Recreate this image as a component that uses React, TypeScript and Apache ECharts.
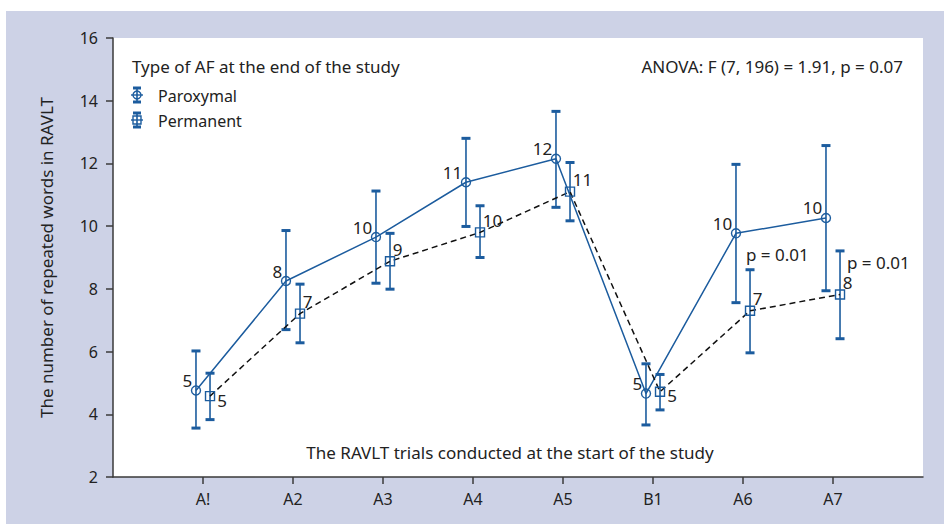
import React, { useEffect, useRef } from "react";
import * as echarts from "echarts";

const categories = ["A!", "A2", "A3", "A4", "A5", "B1", "A6", "A7"];
const paroxMean = [4.76, 8.25, 9.65, 11.4, 12.15, 4.66, 9.77, 10.26];
const paroxUpper = [6.02, 9.86, 11.12, 12.8, 13.66, 5.61, 11.97, 12.57];
const paroxLower = [3.56, 6.7, 8.18, 9.99, 10.6, 3.66, 7.56, 7.94];
const permMean = [4.58, 7.21, 8.88, 9.8, 11.1, 4.72, 7.3, 7.82];
const permUpper = [5.31, 8.15, 9.77, 10.65, 12.03, 5.27, 8.61, 9.21];
const permLower = [3.83, 6.28, 7.99, 9.0, 10.17, 4.14, 5.96, 6.41];
const paroxLabels = ["5", "8", "10", "11", "12", "5", "10", "10"];
const permLabels = ["5", "7", "9", "10", "11", "5", "7", "8"];
const yTicks = [2, 4, 6, 8, 10, 12, 14, 16];

const BLUE = "#1c5c9e";
const TEXT = "#222";
const FONT = "'Noto Sans', 'Open Sans', sans-serif";

export default function App() {
  const ref = useRef<HTMLDivElement>(null);

  useEffect(() => {
    document.body.style.margin = "0";
    if (!ref.current) return;
    const chart = echarts.init(ref.current, null, { renderer: "svg" });

    const off = 0.078;
    const xPar = categories.map((_, i) => i + 1 - off);
    const xPerm = categories.map((_, i) => i + 1 + off);
    const tickVals = categories.map((_, i) => i + 1);

    const errRender = (params: any, api: any) => {
      const x = api.value(0);
      const lo = api.coord([x, api.value(1)]);
      const hi = api.coord([x, api.value(2)]);
      const w = 4.5;
      const st = { stroke: BLUE, lineWidth: 1.6 };
      const cap = { stroke: BLUE, lineWidth: 3 };
      return {
        type: "group",
        children: [
          { type: "line", shape: { x1: lo[0], y1: lo[1], x2: hi[0], y2: hi[1] }, style: st },
          { type: "line", shape: { x1: lo[0] - w, y1: lo[1], x2: lo[0] + w, y2: lo[1] }, style: cap },
          { type: "line", shape: { x1: hi[0] - w, y1: hi[1], x2: hi[0] + w, y2: hi[1] }, style: cap },
        ],
      };
    };

    const lowLabelIdx = [0, 5];

    const legendIcon = (cy: number, shape: "circle" | "rect") => {
      const cx = 137;
      const els: any[] = [
        { type: "line", shape: { x1: cx, y1: cy - 7, x2: cx, y2: cy + 7 }, style: { stroke: BLUE, lineWidth: 1.6 } },
        { type: "line", shape: { x1: cx - 4, y1: cy - 7, x2: cx + 4, y2: cy - 7 }, style: { stroke: BLUE, lineWidth: 3 } },
        { type: "line", shape: { x1: cx - 4, y1: cy + 7, x2: cx + 4, y2: cy + 7 }, style: { stroke: BLUE, lineWidth: 3 } },
        { type: "line", shape: { x1: cx - 6, y1: cy, x2: cx + 6, y2: cy }, style: { stroke: BLUE, lineWidth: 1.4 } },
      ];
      if (shape === "circle") {
        els.push({ type: "circle", shape: { cx, cy, r: 4 }, style: { fill: "none", stroke: BLUE, lineWidth: 1.4 } });
      } else {
        els.push({ type: "rect", shape: { x: cx - 4, y: cy - 4, width: 8, height: 8 }, style: { fill: "none", stroke: BLUE, lineWidth: 1.4 } });
      }
      return els;
    };

    const txt = (x: number, y: number, s: string, align = "left", size = 16) => ({
      type: "text",
      x,
      y,
      style: { text: s, fill: TEXT, font: `${size}px ${FONT}`, align, verticalAlign: "middle" },
    });

    chart.setOption({
      animation: false,
      backgroundColor: "transparent",
      textStyle: { fontFamily: FONT },
      grid: { left: 113, right: 21, top: 38, bottom: 47, show: true, backgroundColor: "#ffffff", borderWidth: 0 },
      xAxis: {
        type: "value",
        min: 0,
        max: categories.length + 1,
        interval: 1,
        splitLine: { show: false },
        axisLine: { lineStyle: { color: "#3a3a3a", width: 1.5 } },
        axisTick: { show: true, length: 7, customValues: tickVals, lineStyle: { color: "#3a3a3a", width: 1.5 } },
        axisLabel: {
          customValues: tickVals,
          formatter: (v: number) => categories[Math.round(v) - 1] ?? "",
          color: TEXT,
          fontSize: 16,
          margin: 14,
          fontFamily: FONT,
        },
      },
      yAxis: {
        type: "value",
        min: 2,
        max: 16,
        interval: 2,
        name: "The number of repeated words in RAVLT",
        nameLocation: "middle",
        nameGap: 58,
        nameTextStyle: { color: TEXT, fontSize: 17, fontFamily: FONT },
        splitLine: { show: false },
        axisLine: { show: true, lineStyle: { color: "#3a3a3a", width: 1.5 } },
        axisTick: { show: true, length: 7, lineStyle: { color: "#3a3a3a", width: 1.5 } },
        axisLabel: {
          color: TEXT,
          fontSize: 16,
          margin: 15,
          fontFamily: FONT,
          formatter: (v: number) => (yTicks.includes(v) ? String(v) : ""),
        },
      },
      graphic: [
        txt(132, 66, "Type of AF at the end of the study", "left", 17),
        txt(903, 66, "ANOVA: F (7, 196) = 1.91, p = 0.07", "right", 17),
        ...legendIcon(95, "circle"),
        ...legendIcon(120, "rect"),
        txt(158, 96, "Paroxymal"),
        txt(158, 121, "Permanent"),
        txt(746, 254, "p = 0.01", "left", 17),
        txt(847, 262, "p = 0.01", "left", 17),
        txt(510, 452, "The RAVLT trials conducted at the start of the study", "center", 17),
      ],
      series: [
        {
          type: "custom",
          name: "Paroxymal error",
          renderItem: errRender,
          data: xPar.map((x, i) => [x, paroxLower[i], paroxUpper[i]]),
          z: 1,
        },
        {
          type: "custom",
          name: "Permanent error",
          renderItem: errRender,
          data: xPerm.map((x, i) => [x, permLower[i], permUpper[i]]),
          z: 1,
        },
        {
          type: "line",
          name: "Paroxymal",
          data: xPar.map((x, i) => [x, paroxMean[i]]),
          symbol: "circle",
          symbolSize: 9,
          itemStyle: { color: "rgba(255,255,255,0)", borderColor: BLUE, borderWidth: 1.4 },
          lineStyle: { color: BLUE, width: 1.5 },
          label: {
            show: true,
            position: "left",
            distance: 0,
            offset: [1.5, -10],
            color: TEXT,
            fontSize: 17,
            fontFamily: FONT,
            formatter: (p: any) => paroxLabels[p.dataIndex],
          },
          z: 3,
        },
        {
          type: "line",
          name: "Permanent",
          data: xPerm.map((x, i) => ({
            value: [x, permMean[i]],
            label: lowLabelIdx.includes(i) ? { offset: [2, 4] } : undefined,
          })),
          symbol: "rect",
          symbolSize: 9,
          itemStyle: { color: "rgba(255,255,255,0)", borderColor: BLUE, borderWidth: 1.4 },
          lineStyle: { color: "#111", width: 1.5, type: [6, 4] },
          label: {
            show: true,
            position: "right",
            distance: 0,
            offset: [-2.5, -12],
            color: TEXT,
            fontSize: 17,
            fontFamily: FONT,
            formatter: (p: any) => permLabels[p.dataIndex],
          },
          z: 3,
        },
      ],
    });

    return () => chart.dispose();
  }, []);

  return (
    <div style={{ position: "relative", width: 944, height: 524, background: "#ffffff" }}>
      <div style={{ position: "absolute", left: 6, top: 11, right: 0, bottom: 0, background: "#cdd2e6" }} />
      <div ref={ref} style={{ position: "absolute", left: 0, top: 0, width: 944, height: 524 }} />
    </div>
  );
}
